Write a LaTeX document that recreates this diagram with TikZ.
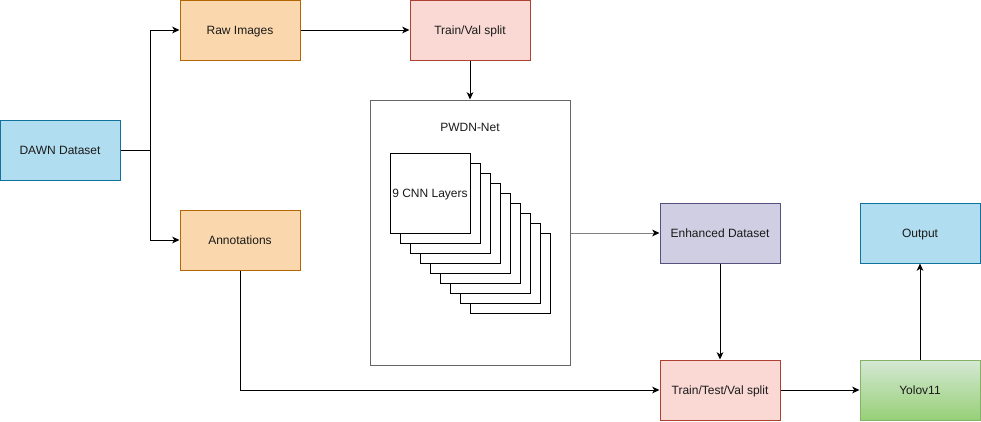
\documentclass[tikz,border=0pt]{standalone}
\usepackage{fontspec}
\setmainfont{Liberation Sans}
\usetikzlibrary{arrows.meta}
\definecolor{orF}{HTML}{FAD7AC}\definecolor{orD}{HTML}{B46504}
\definecolor{blF}{HTML}{B1DDF0}\definecolor{blD}{HTML}{10739E}
\definecolor{rdF}{HTML}{FAD9D5}\definecolor{rdD}{HTML}{AE4132}
\definecolor{puF}{HTML}{D0CEE2}\definecolor{puD}{HTML}{56517E}
\definecolor{grT}{HTML}{D5E8D4}\definecolor{grB}{HTML}{97D077}\definecolor{grD}{HTML}{82B366}
\definecolor{contD}{HTML}{666666}
\definecolor{txt}{HTML}{1A1A1A}
\tikzset{
  lbl/.style={font=\fontsize{9}{11}\selectfont, text=txt, text height=6.6pt, text depth=0pt},
  box/.style={lbl, draw, line width=0.75pt, minimum width=90pt, minimum height=45pt, inner sep=0pt},
  arr/.style={line width=0.75pt, -{Stealth[length=5.5pt,width=5pt,inset=1.6pt]}},
  layer/.style={lbl, draw=black, fill=white, line width=0.75pt, minimum width=60pt, minimum height=60pt, inner sep=0pt},
}
\begin{document}
\begin{tikzpicture}[x=0.75pt,y=-0.75pt]
\useasboundingbox (0,0) rectangle (981,421);
\node[box, draw=blD, fill=blF] (dawn) at (60,150) {DAWN Dataset};
\node[box, draw=orD, fill=orF] (raw) at (240,30) {Raw Images};
\node[box, draw=orD, fill=orF] (ann) at (240,240) {Annotations};
\node[box, draw=rdD, fill=rdF] (tv) at (470,30) {Train/Val split};
\node[draw=contD, line width=0.75pt, minimum width=150pt, minimum height=198.75pt, inner sep=0pt] (pwdn) at (470,232.5) {};
\node[lbl] (pwdnlbl) at (470,127) {PWDN-Net};
\foreach \k in {8,7,...,1} {
  \node[layer] (l\k) at (430+10*\k,193+10*\k) {};
}
\node[layer] (l0) at (430,193) {9 CNN Layers};
\node[box, draw=puD, fill=puF] (enh) at (720,233) {Enhanced Dataset};
\node[box, draw=blD, fill=blF] (out) at (920,233) {Output};
\node[box, draw=rdD, fill=rdF] (ttv) at (720,390) {Train/Test/Val split};
\node[box, draw=grD, top color=grT, bottom color=grB] (yolo) at (920,390) {Yolov11};

\draw[arr] (dawn.east) -- ++(30,0) |- (raw.west);
\draw[arr] (dawn.east) -- ++(30,0) |- (ann.west);
\draw[arr] (raw.east) -- (tv.west);
\draw[arr] (tv.south) -- (pwdn.north);
\draw[arr, draw=gray, -{Stealth[length=5.5pt,width=5pt,inset=1.6pt,black]}] (pwdn.east |- enh.west) -- (enh.west);
\draw[arr] (enh.south) -- (ttv.north);
\draw[arr] (ann.south) |- (ttv.west);
\draw[arr] (ttv.east) -- (yolo.west);
\draw[arr] (yolo.north) -- (out.south);
\end{tikzpicture}
\end{document}
